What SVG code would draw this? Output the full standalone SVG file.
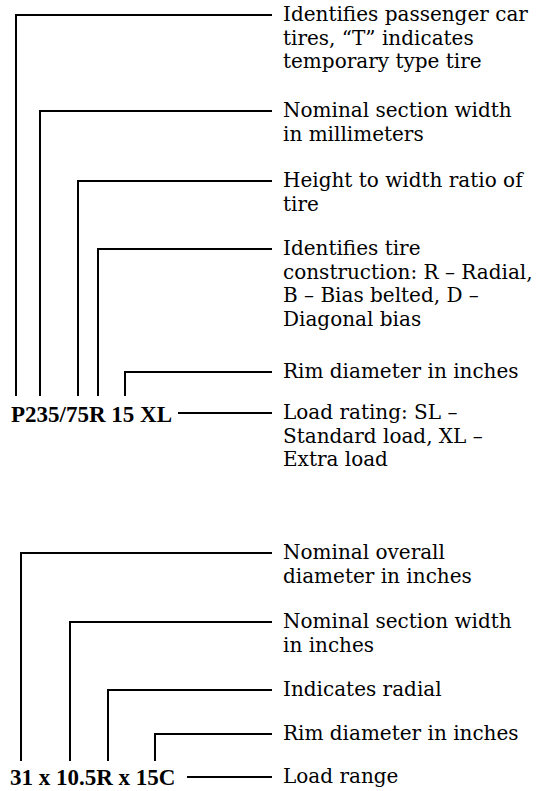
<svg xmlns="http://www.w3.org/2000/svg" width="544" height="791" viewBox="0 0 544 791">
<style>
.ln{fill:none;stroke:#000;stroke-width:2;stroke-linecap:square;stroke-linejoin:miter}
.t{font-family:"DejaVu Serif","Liberation Serif",serif;font-size:20px;fill:#000}
.c{font-family:"Liberation Serif",serif;font-size:23px;font-weight:bold;fill:#000}
</style>
<rect width="544" height="791" fill="#fff"/>
<g id="connectors">
<path class="ln" d="M16,395V15H271"/>
<path class="ln" d="M40,395V111H271"/>
<path class="ln" d="M78,395V181H271"/>
<path class="ln" d="M98,395V249H271"/>
<path class="ln" d="M125,395V372H271"/>
<path class="ln" d="M179,413H271"/>
<path class="ln" d="M21,760V553H271"/>
<path class="ln" d="M70,760V622H271"/>
<path class="ln" d="M108,760V690H271"/>
<path class="ln" d="M155,760V734H271"/>
<path class="ln" d="M188,777H271"/>
</g>
<g id="code1"><text class="c" x="11" y="422">P235/75R 15 XL</text></g>
<g id="code2"><text class="c" x="10" y="785">31 x 10.5R x 15C</text></g>
<g id="n1"><text class="t" x="283" y="21">Identifies passenger car</text><text class="t" x="283" y="44.5">tires, “T” indicates</text><text class="t" x="283" y="68">temporary type tire</text></g>
<g id="n2"><text class="t" x="283" y="117">Nominal section width</text><text class="t" x="283" y="140.5">in millimeters</text></g>
<g id="n3"><text class="t" x="283" y="187">Height to width ratio of</text><text class="t" x="283" y="210.5">tire</text></g>
<g id="n4"><text class="t" x="283" y="255">Identifies tire</text><text class="t" x="283" y="278.5">construction: R – Radial,</text><text class="t" x="283" y="302">B – Bias belted, D –</text><text class="t" x="283" y="325.5">Diagonal bias</text></g>
<g id="n5"><text class="t" x="283" y="378">Rim diameter in inches</text></g>
<g id="n6"><text class="t" x="283" y="419">Load rating: SL –</text><text class="t" x="283" y="442.5">Standard load, XL –</text><text class="t" x="283" y="466">Extra load</text></g>
<g id="m1"><text class="t" x="283" y="559">Nominal overall</text><text class="t" x="283" y="582.5">diameter in inches</text></g>
<g id="m2"><text class="t" x="283" y="628">Nominal section width</text><text class="t" x="283" y="651.5">in inches</text></g>
<g id="m3"><text class="t" x="283" y="696">Indicates radial</text></g>
<g id="m4"><text class="t" x="283" y="740">Rim diameter in inches</text></g>
<g id="m5"><text class="t" x="283" y="783">Load range</text></g>
</svg>
